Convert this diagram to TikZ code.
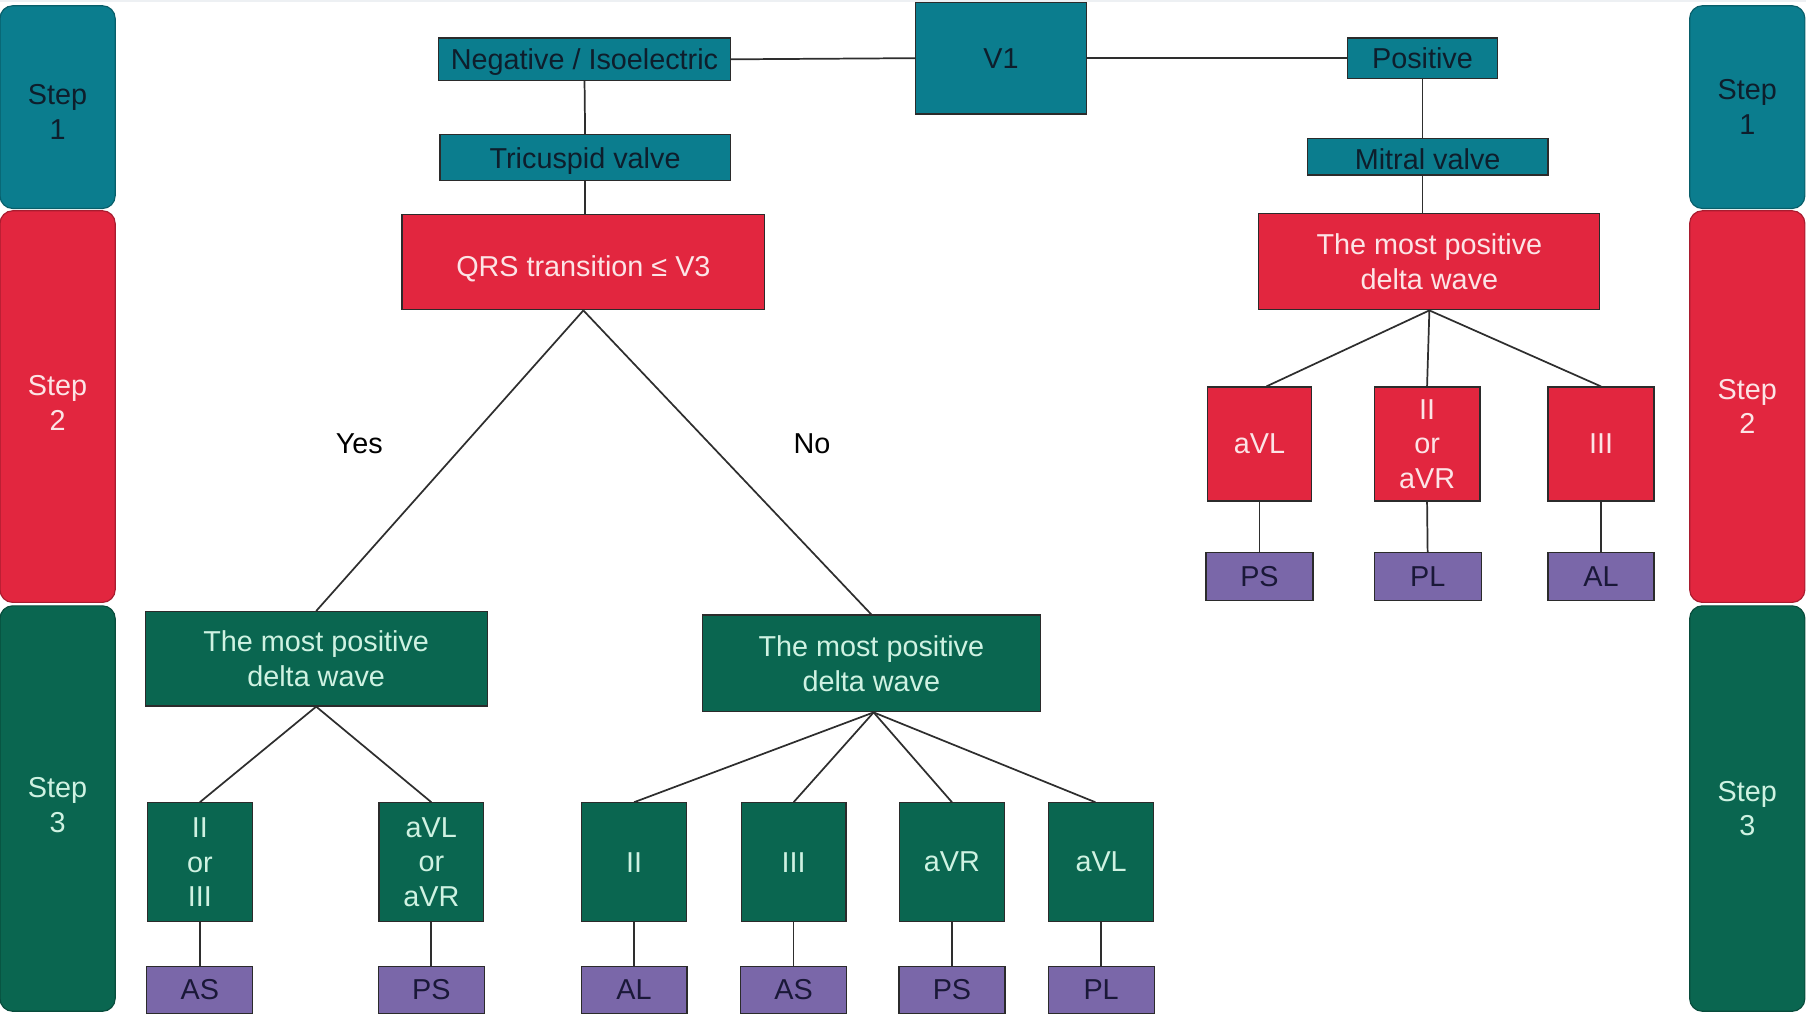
\documentclass[tikz,border=0pt]{standalone}
\usepackage{fontspec}
\setmainfont{Liberation Sans}
\definecolor{cteal}{HTML}{0B7D8E}
\definecolor{cred}{HTML}{E2263F}
\definecolor{cgreen}{HTML}{0A6650}
\definecolor{cpurple}{HTML}{7A67A9}
\definecolor{tdark}{HTML}{0E1E2C}
\definecolor{tpink}{HTML}{FCE4E6}
\definecolor{tmint}{HTML}{CFF2E2}
\definecolor{tnavy}{HTML}{1A1838}
\definecolor{edgec}{HTML}{2B2B2B}
\definecolor{strip}{HTML}{EDF0F3}
\begin{document}
\begin{tikzpicture}[x=1pt,y=-1pt,
  font=\fontsize{25}{30}\selectfont,
  sz/.style 2 args={minimum width=#1pt, minimum height=#2pt},
  bx/.style={draw=edgec, line width=1pt, inner sep=0pt, align=center, anchor=center},
  tealbox/.style={bx, fill=cteal, text=tdark},
  redbox/.style={bx, fill=cred, text=tpink},
  greenbox/.style={bx, fill=cgreen, text=tmint},
  purplebox/.style={bx, fill=cpurple, text=tnavy},
  stepbar/.style={inner sep=0pt, align=center, anchor=center, rounded corners=11pt, line width=1pt, minimum width=100pt},
  stepone/.style={stepbar, fill=cteal, draw=cteal!75!black, text=tdark},
  steptwo/.style={stepbar, fill=cred, draw=cred!75!black, text=tpink},
  stepthree/.style={stepbar, fill=cgreen, draw=cgreen!75!black, text=tmint},
  steptext/.style={inner sep=0pt, align=center, anchor=center},
  link/.style={draw=black!82, line width=1.5pt},
  lbl/.style={text=black, inner sep=0pt}]
\useasboundingbox (0,0) rectangle (1568,880);
\fill[strip] (0,0) rectangle (1568,1.5);

% step bars left
\node[stepone, minimum height=176pt] (sl1) at (50,93) {};
\node[steptwo, minimum height=340pt] (sl2) at (50,353) {};
\node[stepthree, minimum height=352pt] (sl3) at (50,702) {};
\node[steptext, text=tdark] (sl1t) at (50,97) {Step\\1};
\node[steptext, text=tpink] (sl2t) at (50,350) {Step\\2};
\node[steptext, text=tmint] (sl3t) at (50,699) {Step\\3};
% step bars right
\node[stepone, minimum height=176pt] (sr1) at (1517,93) {Step\\1};
\node[steptwo, minimum height=340pt] (sr2) at (1517,353) {Step\\2};
\node[stepthree, minimum height=352pt] (sr3) at (1517,702) {Step\\3};

% step 1
\node[tealbox, sz={148}{97}] (v1) at (869,50.5) {V1};
\node[tealbox, sz={253}{37}, text depth=0pt] (neg) at (507.5,51.5) {Negative / Isoelectric};
\node[tealbox, sz={130}{35}] (pos) at (1235,50.5) {Positive};
\node[tealbox, sz={252}{40}, text depth=0pt] (tri) at (508,137) {Tricuspid valve};
\node[tealbox, sz={209}{32}, text height=22pt] (mit) at (1239.5,136) {Mitral valve};

% step 2
\node[redbox, sz={315}{83}, text height=25pt, text depth=0pt] (qrs) at (506.5,227.5) {QRS transition ≤ V3};
\node[redbox, sz={296}{84}] (rdw) at (1241,227) {The most positive\\delta wave};
\node[redbox, sz={91}{99}] (ravl) at (1093.5,385.5) {aVL};
\node[redbox, sz={92}{99}] (rii) at (1239,385.5) {II\\or\\aVR};
\node[redbox, sz={92}{99}] (riii) at (1390,385.5) {III};
\node[purplebox, sz={93}{41}] (pps) at (1093.5,500.5) {PS};
\node[purplebox, sz={93}{41}] (ppl) at (1239.5,500.5) {PL};
\node[purplebox, sz={92}{41}] (pal) at (1390,500.5) {AL};

% step 3
\node[greenbox, sz={297}{82}] (gl) at (274.5,572) {The most positive\\delta wave};
\node[greenbox, sz={293}{84}] (gm) at (756.5,576) {The most positive\\delta wave};
\node[greenbox, sz={91}{103}] (g1) at (173.5,748.5) {II\\or\\III};
\node[greenbox, sz={91}{103}] (g2) at (374.5,748.5) {aVL\\or\\aVR};
\node[greenbox, sz={91}{103}] (g3) at (550.5,748.5) {II};
\node[greenbox, sz={91}{103}] (g4) at (689,748.5) {III};
\node[greenbox, sz={91}{103}] (g5) at (826.5,748.5) {aVR};
\node[greenbox, sz={91}{103}] (g6) at (956,748.5) {aVL};
\node[purplebox, sz={92}{41}] (b1) at (173.5,859.5) {AS};
\node[purplebox, sz={92}{41}] (b2) at (374.5,859.5) {PS};
\node[purplebox, sz={92}{41}] (b3) at (550.5,859.5) {AL};
\node[purplebox, sz={92}{41}] (b4) at (689,859.5) {AS};
\node[purplebox, sz={92}{41}] (b5) at (826.5,859.5) {PS};
\node[purplebox, sz={92}{41}] (b6) at (956,859.5) {PL};

% labels
\node[lbl] (yes) at (312,385) {Yes};
\node[lbl] (no) at (705,385) {No};

% connectors
\draw[link] (neg.east) -- (v1.west);
\draw[link] (v1.east |- pos.west) -- (pos.west);
\draw[link] (neg.south) -- (tri.north);
\draw[link] (tri.south) -- (tri.south |- qrs.north);
\draw[link] (pos.south) -- (pos.south |- mit.north);
\draw[link] (mit.south -| pos.south) -- (pos.south |- rdw.north);
\draw[link] (qrs.south) -- (gl.north);
\draw[link] (qrs.south) -- (gm.north);
\draw[link] (rdw.south) -- ([xshift=6pt]ravl.north);
\draw[link] (rdw.south) -- (rii.north);
\draw[link] (rdw.south) -- (riii.north);
\draw[link] (ravl.south) -- (pps.north);
\draw[link] (rii.south) -- (ppl.north);
\draw[link] (riii.south) -- (pal.north);
\draw[link] (gl.south) -- (g1.north);
\draw[link] (gl.south) -- (g2.north);
\draw[link] ([xshift=2pt]gm.south) -- (g3.north);
\draw[link] ([xshift=2pt]gm.south) -- (g4.north);
\draw[link] ([xshift=2pt]gm.south) -- (g5.north);
\draw[link] ([xshift=2pt]gm.south) -- ([xshift=-5pt]g6.north);
\draw[link] (g1.south) -- (b1.north);
\draw[link] (g2.south) -- (b2.north);
\draw[link] (g3.south) -- (b3.north);
\draw[link] (g4.south) -- (b4.north);
\draw[link] (g5.south) -- (b5.north);
\draw[link] (g6.south) -- (b6.north);
\end{tikzpicture}
\end{document}
